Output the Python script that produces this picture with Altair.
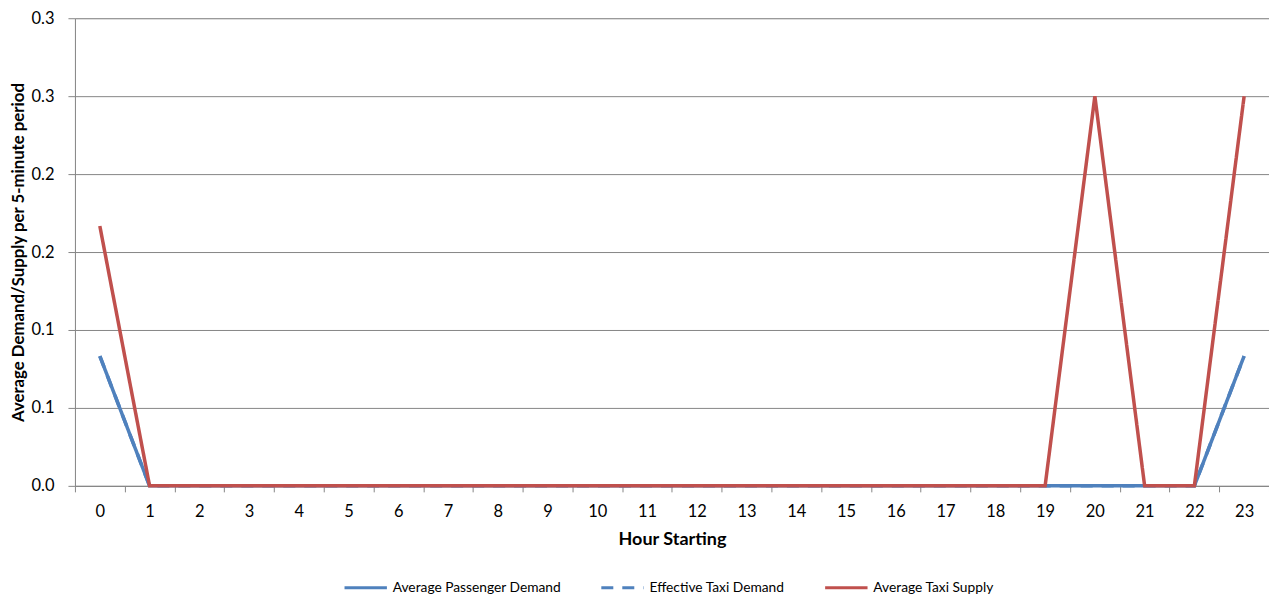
import altair as alt
import pandas as pd

hours = list(range(24))
passenger_demand = [0.0833] + [0.0] * 22 + [0.0833]
effective_demand = [0.0833] + [0.0] * 22 + [0.0833]
taxi_supply = [0.1667] + [0.0] * 19 + [0.25, 0.0, 0.0, 0.25]

series_names = ["Average Passenger Demand", "Effective Taxi Demand", "Average Taxi Supply"]
series_colors = ["#4F81BD", "#4F81BD", "#C0504D"]
series_dashes = [[1, 0], [12, 9], [1, 0]]

rows = []
for name, vals in zip(series_names, [passenger_demand, effective_demand, taxi_supply]):
    for h, v in zip(hours, vals):
        rows.append({"hour": str(h), "value": v, "series": name})
df = pd.DataFrame(rows)

FONT = "Lato"

x_enc = alt.X(
    "hour:O",
    sort=[str(h) for h in hours],
    scale=alt.Scale(type="band", paddingInner=0, paddingOuter=0),
    axis=alt.Axis(
        title="Hour Starting", labelAngle=0, tickBand="extent", grid=False,
        domainColor="#868686", tickColor="#868686", tickSize=6,
        labelFontSize=16.5, labelPadding=12, labelColor="#000000",
        titleFontSize=18, titleFontWeight="bold", titlePadding=10, titleColor="#000000",
        labelFont=FONT, titleFont=FONT,
    ),
)
y_enc = alt.Y(
    "value:Q",
    scale=alt.Scale(domain=[0, 0.3], nice=False),
    axis=alt.Axis(
        title="Average Demand/Supply per 5-minute period",
        values=[0, 0.05, 0.1, 0.15, 0.2, 0.25, 0.3],
        labelExpr="format(datum.value + 1e-9, '.1f')",
        grid=True, gridColor="#868686", gridWidth=1,
        domainColor="#868686", tickColor="#868686", tickSize=7,
        labelFontSize=16.5, labelPadding=14, labelColor="#000000",
        titleFontSize=16.8, titleFontWeight="bold", titlePadding=3, titleColor="#000000",
        labelFont=FONT, titleFont=FONT,
    ),
)
legend_kw = dict(
    title=None, orient="none", legendX=268, legendY=547, direction="horizontal",
    columns=3, columnPadding=33, symbolType="stroke", symbolSize=1800,
    symbolStrokeWidth=3, labelFontSize=13.8, labelFont=FONT, labelOffset=4,
    labelColor="#000000", labelLimit=400,
)
color_enc = alt.Color(
    "series:N",
    scale=alt.Scale(domain=series_names, range=series_colors),
    legend=alt.Legend(**legend_kw),
)
dash_enc = alt.StrokeDash(
    "series:N",
    scale=alt.Scale(domain=series_names, range=series_dashes),
    legend=alt.Legend(**legend_kw),
)

base = alt.Chart(df).mark_line(strokeWidth=3.5).encode(
    x=x_enc, y=y_enc, color=color_enc, strokeDash=dash_enc
)

demand = base.transform_filter(alt.datum.series != "Average Taxi Supply")
supply = base.transform_filter(alt.datum.series == "Average Taxi Supply")

chart = (
    alt.layer(demand, supply)
    .properties(
        width=1195, height=468,
        autosize=alt.AutoSizeParams(type="none"),
        padding={"left": 67, "top": 10, "right": 0, "bottom": 110},
    )
    .configure_view(stroke=None)
    .configure(background="white")
)

chart.save("out.html", embed_options={"renderer": "svg", "actions": False})
